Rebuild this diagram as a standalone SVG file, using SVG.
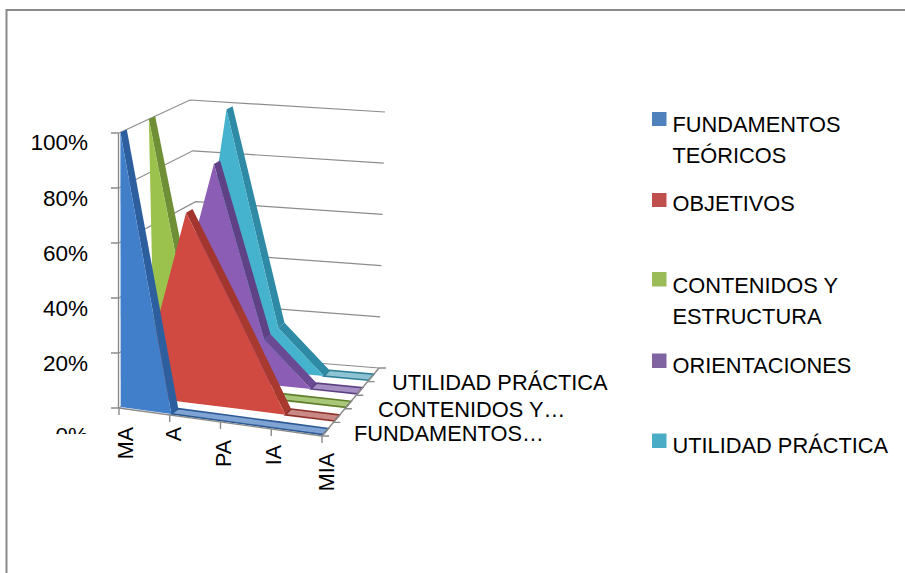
<svg xmlns="http://www.w3.org/2000/svg" width="905" height="573" viewBox="0 0 905 573">
<style>
text{font-family:"Liberation Sans",Arial,sans-serif;fill:#000}
.t{font-size:21.8px}
.ya{font-size:22.5px;text-anchor:end}
.rot{font-size:21.5px;text-anchor:end}
.grid{stroke:#8c8c8c;stroke-width:1.2;fill:none}
.axis{stroke:#8a8a8a;stroke-width:1.4;fill:none}
.stripe{stroke-width:1.6}
</style>
<defs>
<clipPath id="clip0"><rect x="0" y="0" width="905" height="434"/></clipPath>
</defs>
<rect x="0" y="0" width="905" height="573" fill="#ffffff"/>
<g id="frame"><path d="M6.5,573 V10 H905" fill="none" stroke="#8a8a8a" stroke-width="2"/></g>

<g id="walls" class="grid">
<polyline points="119,133 190,100 385,112"/>
<polyline points="119,188 192.8,150.8 383.8,163.2"/>
<polyline points="119,243 195.6,201.6 382.6,214.4"/>
<polyline points="119,298 198.4,252.4 381.4,265.6"/>
<polyline points="119,353 201.2,303.2 380.2,316.8"/>
<polyline points="119,408 204,354 379,368"/>
</g>

<g id="series-utilidad">
<polygon points="226.5,109.6 232.6,106.3 284.5,322.8 278.2,328.0" fill="#2E8AA5"/>
<polygon points="278.2,328.0 284.5,322.8 329.5,370.3 323.7,376.1" fill="#2E8AA5"/>
<polygon class="stripe" points="323.7,376.1 329.5,370.3 373.9,374.1 368.7,380.2" fill="#8ec3d3" stroke="#2E7F98"/>
<polygon points="188.7,363.7 226.5,109.6 278.2,328.0 323.7,376.1 278.7,372.0 233.7,367.85" fill="#46B3CE"/>
</g>

<g id="series-orientaciones">
<polygon points="213.9,164.1 220.1,160.5 270.5,334.3 264.2,339.5" fill="#5E4285"/>
<polygon points="264.2,339.5 270.5,334.3 316.7,383.2 310.9,389.0" fill="#6A4A92"/>
<polygon class="stripe" points="310.9,389.0 316.7,383.2 362.5,387.7 357.3,393.8" fill="#a58fc2" stroke="#5E4285"/>
<polygon points="171.7,374.5 170.2,330.0 213.9,164.1 264.2,339.5 310.9,389.0 264.5,384.2 218.1,379.35" fill="#8B5DB4"/>
</g>

<g id="series-contenidos">
<polygon points="148.8,119.1 155.2,116.2 209.5,385.7 202.5,390.9" fill="#6F8F36"/>
<polygon class="stripe" points="202.5,390.9 209.5,385.7 256.7,390.9 303.9,396.1 351.1,401.3 345.9,407.4 298.1,401.9 250.3,396.4" fill="#a9c779" stroke="#5f7f2c"/>
<polygon points="154.7,385.3 148.8,119.1 202.5,390.9" fill="#9CC24E"/>
</g>

<g id="series-objetivos">
<polygon points="186.1,212.7 192.5,208.9 242.6,308.8 236.4,313.6" fill="#A2362F"/>
<polygon points="236.4,313.6 242.6,308.8 291.1,409.0 285.3,414.8" fill="#A8392F"/>
<polygon class="stripe" points="285.3,414.8 291.1,409.0 339.7,414.9 334.5,421.0" fill="#c98a86" stroke="#8f302a"/>
<polygon points="137.7,396.1 186.1,212.7 236.4,313.6 285.3,414.8 236.1,408.6 186.9,402.4" fill="#D04A42"/>
</g>

<g id="series-fundamentos">
<polygon points="120.4,132.3 126.8,129.4 178.3,408.7 171.3,413.9" fill="#2D5F9F"/>
<polygon class="stripe" points="171.3,413.9 178.3,408.7 228.3,415.3 278.3,421.9 328.3,428.5 323.1,434.6 272.5,427.7 221.9,420.8" fill="#7fa3d2" stroke="#2B5A96"/>
<polygon points="120.7,406.9 120.4,132.3 171.3,413.9" fill="#417FCB"/>
</g>

<g id="axes" class="axis">
<line x1="118.5" y1="133" x2="118.5" y2="408"/>
<path d="M111,133 H118.5 M111,188 H118.5 M111,243 H118.5 M111,298 H118.5 M111,353 H118.5 M111,408 H118.5"/>
<line x1="119" y1="408" x2="322" y2="436"/>
<path d="M119,408 v7 M169.75,415 v7 M220.5,422 v7 M271.25,429 v7 M322,436 v7"/>
<line x1="322" y1="436" x2="379" y2="368"/>
<path d="M322,436 h7 M333.4,422.4 h7 M344.8,408.8 h7 M356.2,395.2 h7 M367.6,381.6 h7 M379,368 h7"/>
</g>

<g id="value-labels">
<text class="ya" x="88" y="150">100%</text>
<text class="ya" x="88" y="206">80%</text>
<text class="ya" x="88" y="261">60%</text>
<text class="ya" x="88" y="316">40%</text>
<text class="ya" x="88" y="371">20%</text>
<text class="ya" x="88" y="443" clip-path="url(#clip0)">0%</text>
</g>

<g id="category-labels">
<text class="rot" transform="translate(133,427) rotate(-90)">MA</text>
<text class="rot" transform="translate(180.5,427) rotate(-90)">A</text>
<text class="rot" transform="translate(231,440) rotate(-90)">PA</text>
<text class="rot" transform="translate(281,445) rotate(-90)">IA</text>
<text class="rot" transform="translate(334,453) rotate(-90)">MIA</text>
</g>

<g id="series-labels">
<text class="t" x="392" y="390">UTILIDAD PRÁCTICA</text>
<text class="t" x="378" y="417">CONTENIDOS Y…</text>
<text class="t" x="354" y="441">FUNDAMENTOS…</text>
</g>

<g id="legend">
<g id="legend-fundamentos">
<rect x="652" y="112" width="14.5" height="14" fill="#4F81BD"/>
<text class="t" x="672.5" y="132">FUNDAMENTOS</text>
<text class="t" x="672.5" y="163">TEÓRICOS</text>
</g>
<g id="legend-objetivos">
<rect x="652" y="193" width="14.5" height="14" fill="#C0504D"/>
<text class="t" x="672.5" y="211">OBJETIVOS</text>
</g>
<g id="legend-contenidos">
<rect x="652" y="272" width="14.5" height="14.5" fill="#9BBB59"/>
<text class="t" x="672.5" y="292.5">CONTENIDOS Y</text>
<text class="t" x="672.5" y="324">ESTRUCTURA</text>
</g>
<g id="legend-orientaciones">
<rect x="652" y="353.5" width="14.5" height="14.5" fill="#8064A2"/>
<text class="t" x="672.5" y="372.5">ORIENTACIONES</text>
</g>
<g id="legend-utilidad">
<rect x="652" y="433.5" width="14.5" height="14.5" fill="#4BACC6"/>
<text class="t" x="672.5" y="453">UTILIDAD PRÁCTICA</text>
</g>
</g>
</svg>
